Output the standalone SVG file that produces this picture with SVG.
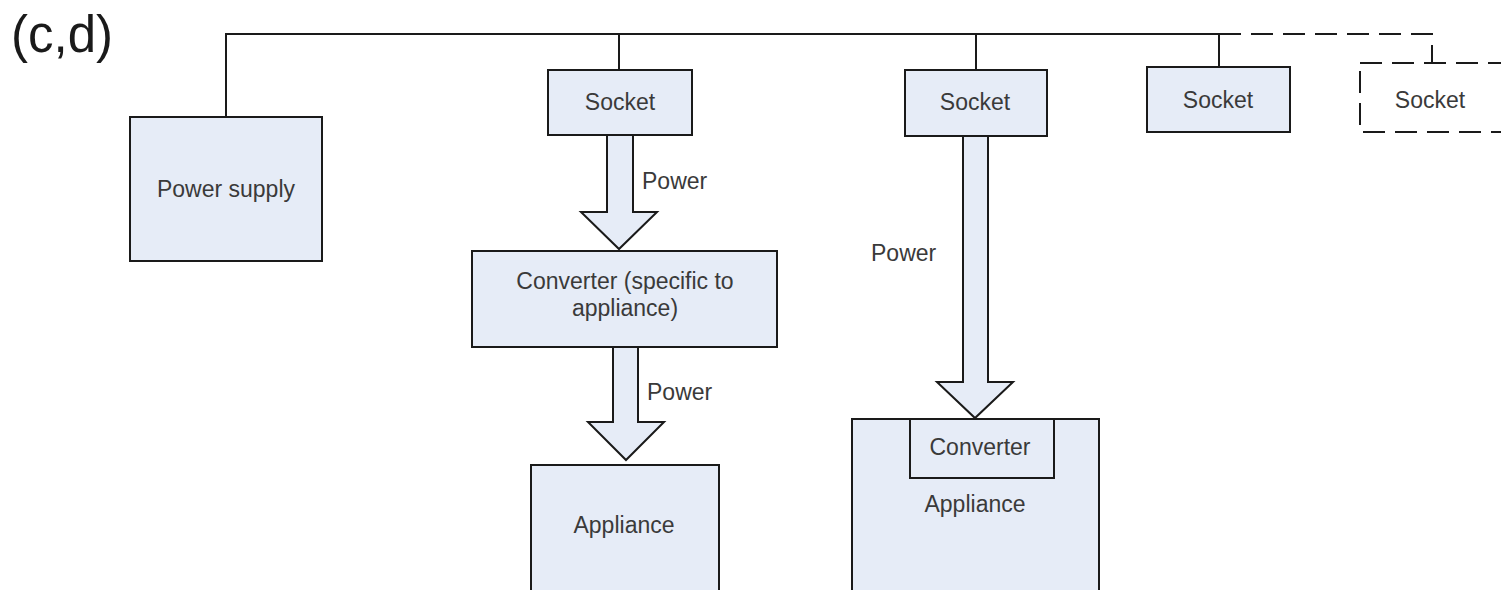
<svg xmlns="http://www.w3.org/2000/svg" width="1501" height="590" viewBox="0 0 1501 590">
  <style>
    .box { fill: #e6ecf7; stroke: #1a1a1a; stroke-width: 2; }
    .wire { fill: none; stroke: #1a1a1a; stroke-width: 2; }
    .dash { fill: none; stroke: #1a1a1a; stroke-width: 2; stroke-dasharray: 22 10; }
    .arrow { fill: #e6ecf7; stroke: #1a1a1a; stroke-width: 2; stroke-linejoin: miter; }
    .lbl { font-family: "Liberation Sans", Arial, sans-serif; font-size: 23px; fill: #3a3a3a; }
    .mid { text-anchor: middle; }
  </style>
  <rect width="1501" height="590" fill="#ffffff"/>

  <text x="11" y="52" font-family="Liberation Sans, Arial, sans-serif" font-size="51" fill="#1a1a1a">(c,d)</text>

  <!-- supply bus and socket drops -->
  <g id="connectors">
    <path class="wire" d="M226 117 V34 H1219 M619 34 V70 M976 34 V70 M1219 34 V67"/>
    <path class="dash" d="M1219 34 H1432 V63"/>
    <polygon class="arrow" points="607,135 633,135 633,212 657,212 619,249 581,212 607,212"/>
    <polygon class="arrow" points="613,347 638,347 638,422 664,422 626,460 588,422 613,422"/>
    <polygon class="arrow" points="963,136 988,136 988,382 1013,382 975,418 937,382 963,382"/>
    <text class="lbl" x="642" y="189">Power</text>
    <text class="lbl" x="647" y="400">Power</text>
    <text class="lbl" x="871" y="261">Power</text>
  </g>

  <g id="power-supply">
    <rect class="box" x="130" y="117" width="192" height="144"/>
    <text class="lbl mid" x="226" y="197">Power supply</text>
  </g>

  <g id="socket-1">
    <rect class="box" x="548" y="70" width="144" height="65"/>
    <text class="lbl mid" x="620" y="110">Socket</text>
  </g>

  <g id="converter-specific">
    <rect class="box" x="472" y="251" width="305" height="96"/>
    <text class="lbl mid" x="625" y="289">Converter (specific to</text>
    <text class="lbl mid" x="625" y="316">appliance)</text>
  </g>

  <g id="appliance-1">
    <rect class="box" x="531" y="465" width="188" height="140"/>
    <text class="lbl mid" x="624" y="533">Appliance</text>
  </g>

  <g id="socket-2">
    <rect class="box" x="905" y="70" width="142" height="66"/>
    <text class="lbl mid" x="975" y="110">Socket</text>
  </g>

  <g id="appliance-2">
    <rect class="box" x="852" y="419" width="247" height="186"/>
    <rect class="box" x="910" y="419" width="144" height="59"/>
    <text class="lbl mid" x="980" y="455">Converter</text>
    <text class="lbl mid" x="975" y="512">Appliance</text>
  </g>

  <g id="socket-3">
    <rect class="box" x="1147" y="67" width="143" height="65"/>
    <text class="lbl mid" x="1218" y="108">Socket</text>
  </g>

  <g id="socket-optional">
    <rect class="dash" x="1360" y="63" width="170" height="69"/>
    <text class="lbl mid" x="1430" y="108">Socket</text>
  </g>
</svg>
